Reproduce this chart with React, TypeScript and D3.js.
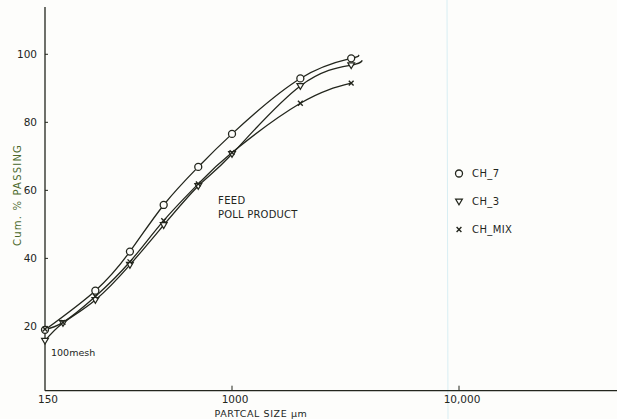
import React from 'react';
import * as d3 from 'd3';

// Sieve sizes (µm)
const sizes = [150, 180, 250, 355, 500, 710, 1000, 2000, 3350];
// Cumulative % passing
const ch7: (number | null)[] = [19.0, null, 30.5, 42.0, 55.7, 66.9, 76.6, 92.9, 98.8];
const ch3: (number | null)[] = [15.8, 21.0, 27.8, 38.1, 49.8, 61.3, 70.7, 90.7, 96.8];
const chMix: (number | null)[] = [19.2, 21.2, 28.8, 39.0, 51.1, 61.9, 71.1, 85.6, 91.5];
// fitted curve extensions beyond last sieve [size, value]
const ch7Tail = [3600, 99.8];
const ch3Tail = [3750, 98.2];

const xTicks = [150, 1000, 10000];
const xTickLabels = ['150', '1000', '10,000'];
const yTicks = [20, 40, 60, 80, 100];
const legendNames = ['CH_7', 'CH_3', 'CH_MIX'];

const W = 617;
const H = 419;
const INK = '#23261d';
const FONT = 'DejaVu Sans, sans-serif';

export default function App() {
  const x = d3.scaleLog().domain([150, 10000]).range([45, 459]);
  const y = d3.scaleLinear().domain([1.1, 113.9]).range([390.7, 7]);

  const toPts = (vals: (number | null)[], tail?: number[]) => {
    const pts: [number, number][] = [];
    vals.forEach((v, i) => {
      if (v != null) pts.push([sizes[i], v]);
    });
    if (tail) pts.push([tail[0], tail[1]]);
    return pts;
  };

  const line = d3
    .line<[number, number]>()
    .x((d) => x(d[0]))
    .y((d) => y(d[1]))
    .curve(d3.curveNatural);

  const series = [
    { name: 'CH_7', vals: ch7, tail: ch7Tail, marker: 'circle' },
    { name: 'CH_3', vals: ch3, tail: ch3Tail, marker: 'tri' },
    { name: 'CH_MIX', vals: chMix, tail: undefined, marker: 'x' },
  ];

  const marker = (type: string, cx: number, cy: number, key: string) => {
    if (type === 'circle')
      return <circle key={key} cx={cx} cy={cy} r={3.5} fill="#fdfdfb" stroke={INK} strokeWidth={1.3} />;
    if (type === 'tri') {
      const s = 3.4;
      return (
        <path
          key={key}
          d={`M${cx - s},${cy - s * 0.7}L${cx + s},${cy - s * 0.7}L${cx},${cy + s}Z`}
          fill="#fdfdfb"
          stroke={INK}
          strokeWidth={1.2}
        />
      );
    }
    const s = 2.4;
    return (
      <path
        key={key}
        d={`M${cx - s},${cy - s}L${cx + s},${cy + s}M${cx - s},${cy + s}L${cx + s},${cy - s}`}
        stroke={INK}
        strokeWidth={1.4}
        fill="none"
      />
    );
  };

  const x0 = x(150);
  const yBase = y(1.1);

  return (
    <svg
      width={W}
      height={H}
      style={{ position: 'absolute', left: 0, top: 0, background: '#fdfdfb' }}
      fontFamily={FONT}
    >
      <rect x={0} y={0} width={W} height={H} fill="#fdfdfb" />
      {/* faint scan fold */}
      <line x1={447} y1={0} x2={448} y2={H} stroke="#d8eef3" strokeWidth={1} />

      {/* axes */}
      <line x1={x0} y1={y(113.9)} x2={x0} y2={yBase} stroke={INK} strokeWidth={1.3} />
      <line x1={x0} y1={yBase} x2={W} y2={yBase} stroke={INK} strokeWidth={1.3} />

      {yTicks.map((t) => (
        <g key={t}>
          <line x1={x0} x2={x0 + 3} y1={y(t)} y2={y(t)} stroke={INK} strokeWidth={1} />
          <text x={x0 - 8} y={y(t)} dy="0.35em" textAnchor="end" fontSize={10.5} fill={INK}>
            {t}
          </text>
        </g>
      ))}

      {xTicks.map((t, i) => (
        <g key={t}>
          {i > 0 && <line x1={x(t)} x2={x(t)} y1={yBase} y2={yBase - 5} stroke={INK} strokeWidth={1} />}
          <text x={x(t) + 3} y={yBase + 12} textAnchor="middle" fontSize={10.5} fill={INK}>
            {xTickLabels[i]}
          </text>
        </g>
      ))}

      <text x={261} y={416.5} textAnchor="middle" fontSize={9.5} fill={INK} letterSpacing={0.6}>
        PARTCAL SIZE μm
      </text>

      <text
        transform={`translate(21,195) rotate(-90)`}
        textAnchor="middle"
        fontSize={10}
        fill="#4b6a2c"
        letterSpacing={1.2}
      >
        Cum. % PASSING
      </text>

      <text x={51} y={356} fontSize={9.5} fill={INK}>
        100mesh
      </text>

      <text x={218} y={204} fontSize={10} fill={INK} letterSpacing={0.4}>
        FEED
      </text>
      <text x={218} y={218} fontSize={10} fill={INK} letterSpacing={0.2}>
        POLL PRODUCT
      </text>

      {/* curves */}
      {series.map((s) => (
        <path key={s.name} d={line(toPts(s.vals, s.tail)) || ''} fill="none" stroke={INK} strokeWidth={1.3} />
      ))}
      {series.map((s) =>
        s.vals.map((v, i) => (v == null ? null : marker(s.marker, x(sizes[i]), y(v), `${s.name}-${i}`)))
      )}

      {/* legend */}
      {series.map((s, i) => (
        <g key={`lg-${s.name}`}>
          {marker(s.marker, 459, 173.5 + i * 28, `lgm-${i}`)}
          <text x={472} y={173.5 + i * 28} dy="0.35em" fontSize={10} fill={INK} letterSpacing={0.4}>
            {legendNames[i]}
          </text>
        </g>
      ))}
    </svg>
  );
}
